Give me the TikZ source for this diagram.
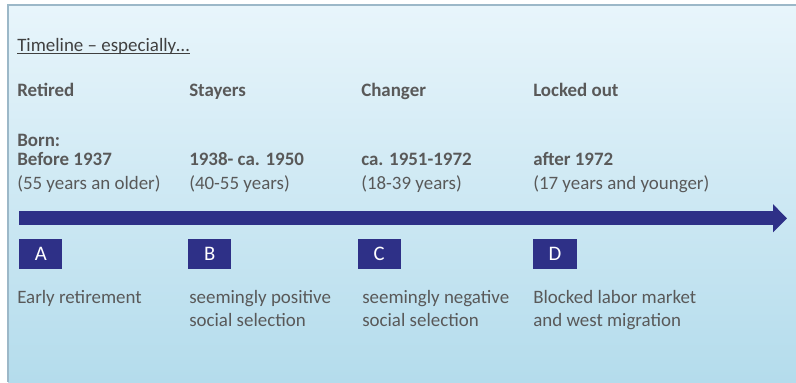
\documentclass[tikz,border=0pt]{standalone}
\usepackage{fontspec}
\setmainfont{Carlito}
\usepackage{xcolor}
\usetikzlibrary{arrows.meta}
\definecolor{txtgray}{HTML}{595959}
\definecolor{titlegray}{HTML}{404040}
\definecolor{barblue}{HTML}{2E3087}
\definecolor{bgtop}{HTML}{E8F5FB}
\definecolor{bgbottom}{HTML}{B4DCEC}
\definecolor{frameline}{HTML}{9CB8C8}

\begin{document}
\begin{tikzpicture}[x=0.75pt, y=-0.75pt,
  txt/.style={anchor=base west, inner sep=0pt, text=txtgray, font=\fontsize{14.2}{17}\selectfont},
  headtxt/.style={txt, font=\fontsize{14.2}{17}\selectfont\bfseries},
  letterbox/.style={fill=barblue, text=white, inner sep=0pt, minimum width=32.5pt, minimum height=22.5pt, font=\fontsize{15.5}{17}\selectfont}]
  \useasboundingbox (0,0) rectangle (796,382);
  \shade[top color=bgtop, bottom color=bgbottom] (8,5) rectangle (796,382);
  \draw[frameline, line width=1.1pt] (8,382) -- (8,5) -- (796,5);
  % title
  \node[txt, text=titlegray] (title) at (17,51) {Timeline – especially…};
  \draw[titlegray, line width=0.8pt] ([yshift=-1.7pt]title.base west) -- ([yshift=-1.7pt]title.base east);
  % groups
  \node[headtxt] (retired) at (17,96.5) {Retired};
  \node[headtxt] (stayers) at (189,96.5) {Stayers};
  \node[headtxt] (changer) at (361,96.5) {Changer};
  \node[headtxt] (locked) at (533,96.5) {Locked out};
  \node[headtxt] (born) at (17,146) {Born:};
  \node[headtxt] (dateA) at (17,165.5) {Before 1937};
  \node[headtxt] (dateB) at (189,165.5) {1938- ca. 1950};
  \node[headtxt] (dateC) at (361,165.5) {ca. 1951-1972};
  \node[headtxt] (dateD) at (533,165.5) {after 1972};
  \node[txt] (ageA) at (17,189.5) {(55 years an older)};
  \node[txt] (ageB) at (189,189.5) {(40-55 years)};
  \node[txt] (ageC) at (361,189.5) {(18-39 years)};
  \node[txt] (ageD) at (533,189.5) {(17 years and younger)};
  % time arrow
  \coordinate (tail) at (19,218.3);
  \coordinate (tip) at (787,218.3);
  \draw[barblue, line width=10.6pt, -{Triangle[length=10.5pt, width=20.5pt]}] (tail) -- (tip);
  % boxes
  \node[letterbox] (boxA) at (40.8,254.3) {A};
  \node[letterbox] (boxB) at (209.8,254.3) {B};
  \node[letterbox] (boxC) at (379.2,254.3) {C};
  \node[letterbox] (boxD) at (555,254.3) {D};
  % descriptions
  \node[txt] (descA) at (17,303) {Early retirement};
  \node[txt] (descB1) at (189,303) {seemingly positive};
  \node[txt] (descB2) at (189,326) {social selection};
  \node[txt] (descC1) at (362,303) {seemingly negative};
  \node[txt] (descC2) at (362,326) {social selection};
  \node[txt] (descD1) at (533,303) {Blocked labor market};
  \node[txt] (descD2) at (533,326) {and west migration};
\end{tikzpicture}
\end{document}
